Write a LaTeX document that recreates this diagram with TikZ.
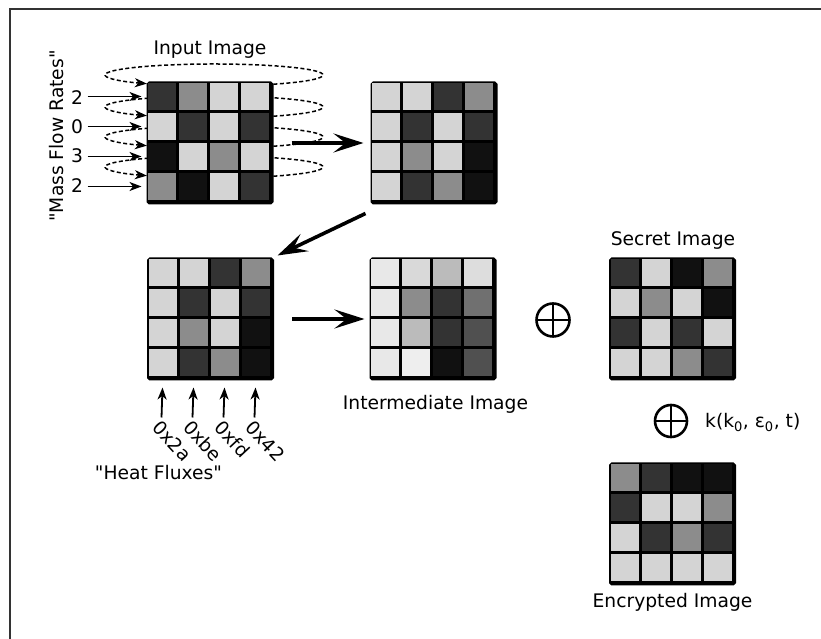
\documentclass[tikz,border=0pt]{standalone}
\usepackage{fontspec}
\setmainfont{DejaVu Sans}[Ligatures=TeXOff]
\usetikzlibrary{arrows.meta}

\definecolor{gK}{HTML}{111111}
\definecolor{gD}{HTML}{333333}
\definecolor{gH}{HTML}{505050}
\definecolor{gG}{HTML}{707070}
\definecolor{gM}{HTML}{8C8C8C}
\definecolor{gS}{HTML}{BBBBBB}
\definecolor{gL}{HTML}{D4D4D4}
\definecolor{gP}{HTML}{D9D9D9}
\definecolor{gQ}{HTML}{DDDDDD}
\definecolor{gE}{HTML}{E8E8E8}
\definecolor{gW}{HTML}{EEEEEE}

\begin{document}
\begin{tikzpicture}[x=1pt, y=1pt,
  pixgrid/.style={draw=black, fill=black, line width=3pt, rounded corners=1.5pt, minimum width=124pt, minimum height=120pt, inner sep=0pt},
  caption/.style={font=\fontsize{18.7}{22}\selectfont, inner sep=0pt, anchor=base},
  rate/.style={font=\fontsize{18.7}{22}\selectfont, inner sep=4.5pt, anchor=base},
  hexval/.style={font=\fontsize{18.7}{22}\selectfont, inner sep=1pt, rotate=-47, anchor=north west},
  flow/.style={-{Stealth[length=12pt, width=9pt, inset=3.5pt]}, line width=1.8pt},
  swirl/.style={flow, line width=1.5pt, dash pattern=on 4pt off 2.5pt},
  stagearrow/.style={-{Stealth[length=30pt, width=19pt, inset=12pt]}, line width=3.6pt},
  xorop/.style={circle, draw, line width=2.6pt, minimum size=33pt, inner sep=0pt,
    path picture={\draw[line width=2.4pt] (path picture bounding box.north) -- (path picture bounding box.south)
      (path picture bounding box.west) -- (path picture bounding box.east);}}
]
\useasboundingbox (0,0) rectangle (821,639);

% Frame
\draw[line width=1.2pt, black!80] (10,0) -- (10,630) -- (821,630);

%% INPUT IMAGE

% Swirls round the rows
\coordinate (e1) at (214,564);
\coordinate (e2) at (214,532);
\coordinate (e3) at (214,502);
\coordinate (e4) at (214,472);
\foreach \e in {e1,e2,e3,e4}
  \draw[swirl] ([shift={(-57:109 and 11)}]\e) arc[start angle=-57, end angle=232, x radius=109, y radius=11];

\node[pixgrid] (input) at (210,496) {};
\foreach \c [count=\i from 0] in {gD,gM,gL,gL, gL,gD,gL,gD, gK,gL,gM,gL, gM,gK,gL,gD}
  \fill[\c] ([shift={({mod(\i,4)*31+1.5},{-int(\i/4)*30-1.5})}]input.north west) rectangle ++(28,-27);

\node[caption] (inputlbl) at (210,584) {Input Image};
\node[caption, rotate=90] (ratelbl) at (63.5,503) {"Mass Flow Rates"};

% Row shifts
\node[rate] (n1) at (77,534) {2};
\node[rate] (n2) at (77,505.5) {0};
\node[rate] (n3) at (77,476) {3};
\node[rate] (n4) at (77,446) {2};
\foreach \k in {1,...,4}
  \coordinate (r\k) at ([xshift=-5pt, yshift={-30*\k+15}]input.north west);
\foreach \k in {1,...,4}
  \draw[flow] (n\k.east |- r\k) -- (r\k);

%% PERMUTED IMAGES

\node[pixgrid] (perm) at (434,496) {};
\foreach \c [count=\i from 0] in {gL,gL,gD,gM, gL,gD,gL,gD, gL,gM,gL,gK, gL,gD,gM,gK}
  \fill[\c] ([shift={({mod(\i,4)*31+1.5},{-int(\i/4)*30-1.5})}]perm.north west) rectangle ++(28,-27);

\node[pixgrid] (flux) at (210.5,320) {};
\foreach \c [count=\i from 0] in {gL,gL,gD,gM, gL,gD,gL,gD, gL,gM,gL,gK, gL,gD,gM,gK}
  \fill[\c] ([shift={({mod(\i,4)*31+1.5},{-int(\i/4)*30-1.5})}]flux.north west) rectangle ++(28,-27);

\draw[stagearrow] ([xshift=18pt]input.east) -- ([xshift=-7pt]perm.west);
\draw[stagearrow] ([xshift=-5pt, yshift=-9pt]perm.south west) -- ([xshift=3.5pt, yshift=2pt]flux.north east);

% Heat fluxes
\foreach \k/\h in {1/0x2a, 2/0xbe, 3/0xfd, 4/0x42} {
  \coordinate (c\k) at ([xshift={31*\k-15.5}, yshift=-7pt]flux.south west);
  \node[hexval] (h\k) at ([xshift=-1pt, yshift=-30pt]c\k) {\h};
  \draw[flow] (h\k.north west) -- (c\k);
}
\node[caption] (fluxlbl) at (158.5,159) {"Heat Fluxes"};

%% INTERMEDIATE IMAGE

\node[pixgrid] (inter) at (433,320) {};
\foreach \c [count=\i from 0] in {gE,gP,gS,gQ, gE,gM,gD,gG, gE,gS,gD,gH, gE,gW,gK,gH}
  \fill[\c] ([shift={({mod(\i,4)*31+1.5},{-int(\i/4)*30-1.5})}]inter.north west) rectangle ++(28,-27);
\node[caption] (interlbl) at (435.5,229) {Intermediate Image};

\draw[stagearrow] ([xshift=18pt]flux.east) -- ([xshift=-5pt]inter.west);

%% SECRET IMAGE AND KEY

\node[xorop] (xor1) at (553,319) {};

\node[pixgrid] (secret) at (672.5,320) {};
\foreach \c [count=\i from 0] in {gD,gL,gK,gM, gL,gM,gL,gK, gD,gL,gD,gL, gL,gL,gM,gD}
  \fill[\c] ([shift={({mod(\i,4)*31+1.5},{-int(\i/4)*30-1.5})}]secret.north west) rectangle ++(28,-27);
\node[caption] (secretlbl) at (673,393) {Secret Image};

\node[xorop, minimum size=32pt] (xor2) at (671,218) {};
\node[caption, anchor=base west] (keylbl) at (705,211) {k(k\textsubscript{0}, ε\textsubscript{0}, t)};

%% ENCRYPTED IMAGE

\node[pixgrid] (crypt) at (672.5,115) {};
\foreach \c [count=\i from 0] in {gM,gD,gK,gK, gD,gL,gL,gM, gL,gD,gM,gD, gL,gL,gL,gL}
  \fill[\c] ([shift={({mod(\i,4)*31+1.5},{-int(\i/4)*30-1.5})}]crypt.north west) rectangle ++(28,-27);
\node[caption] (cryptlbl) at (672.5,31) {Encrypted Image};

\end{tikzpicture}
\end{document}
